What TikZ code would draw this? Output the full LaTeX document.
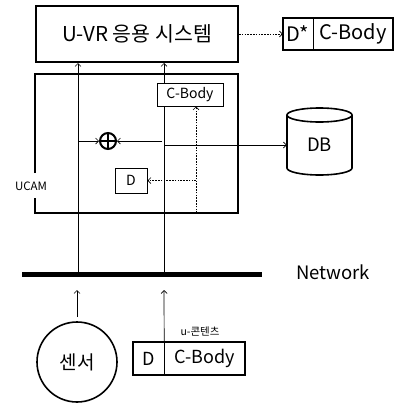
\documentclass[tikz,border=0pt]{standalone}
\usepackage{fontspec}
\setmainfont{Noto Sans CJK KR}
\usetikzlibrary{arrows.meta,calc}
\begin{document}
\begin{tikzpicture}[x=1pt,y=-1pt,
  box/.style={draw, line width=1.6pt, inner sep=0pt},
  plain/.style={inner sep=0pt},
  arr/.style={-{Straight Barb[length=3pt,width=6pt]}, line width=0.7pt},
  dotln/.style={dash pattern=on 1.6pt off 1.2pt},
  thin/.style={line width=0.7pt}]
\useasboundingbox (0,0) rectangle (396,407);
% top system
\node[box, line width=2pt, minimum width=202pt, minimum height=56pt] (sys) at (137,34) {\fontsize{20.5}{20.5}\selectfont U-VR 응용 시스템};
% D* C-Body
\node[plain, minimum width=30pt, minimum height=32pt] (dsD) at (298,34) {\fontsize{20}{20}\selectfont D*};
\node[plain, minimum width=80pt, minimum height=32pt] (dsC) at (353,34) {\fontsize{20}{20}\selectfont C-Body};
\draw[line width=1.6pt] (dsD.north west) rectangle (dsC.south east);
\draw[thin] (dsD.north east) -- (dsD.south east);
\draw[dotln, arr] (sys.east) -- (dsD.west);
% UCAM box
\draw[line width=2.2pt] (35,173) -- (35,74) -- (238,74) -- (238,213) -- (35,213) -- (35,198);
\node[plain] (ucam) at (31,186) {\fontsize{11.5}{11.5}\selectfont UCAM};
\node[box, line width=1pt, minimum width=66pt, minimum height=23pt] (cb) at (190,94.5) {\fontsize{14}{14}\selectfont C-Body};
\node[circle, draw, line width=2pt, minimum size=16pt, inner sep=0pt] (op) at (108,141) {};
\draw[line width=1.2pt] (op.north) -- (op.south) (op.west) -- (op.east);
\node[box, line width=1pt, minimum width=32pt, minimum height=25pt] (dd) at (131,180.5) {\fontsize{14}{14}\selectfont D};
% DB
\draw[line width=1.6pt] (287,115) -- (287,168) arc[start angle=180, end angle=0, x radius=32.5, y radius=7] -- (352,115);
\draw[line width=1.6pt] (319.5,115) ellipse [x radius=32.5, y radius=7];
\node[plain, minimum width=65pt, minimum height=56pt] (db) at (319.5,145) {\fontsize{18.5}{18.5}\selectfont DB};
% network
\coordinate (nL) at (22,274);
\coordinate (nR) at (262,274);
\draw[line width=5pt] (nL) -- (nR);
\node[plain] (net) at (333,272) {\fontsize{18.5}{18.5}\selectfont Network};
\coordinate (n1) at (78,274);
\coordinate (n2) at (164,274);
\draw[arr] (n1) -- (n1 |- sys.south);
\draw[arr] (n1 |- op.west) -- (op.west);
\draw[thin] (n2) -- (n2 |- cb.south);
\draw[arr] (n2 |- cb.north) -- (n2 |- sys.south);
\draw[arr] ($(n2 |- op.east)+(-2,0)$) -- (op.east);
\draw[arr] (n2 |- db.west) -- (db.west);
\coordinate (dv) at (196,213);
\draw[dotln, arr] (dv) -- (dv |- cb.south);
\draw[dotln, arr] (dv |- dd.east) -- (dd.east);
% below
\node[circle, draw, line width=1.6pt, minimum size=80pt, inner sep=0pt] (sen) at (77,362) {\fontsize{19}{19}\selectfont 센서};
\coordinate (a1) at (77,290);
\draw[arr, shorten <=4pt] (sen.north) -- (a1);
\node[plain, minimum width=31pt, minimum height=33pt] (ucD) at (148.5,358.5) {\fontsize{18}{18}\selectfont D};
\node[plain, minimum width=81pt, minimum height=33pt] (ucC) at (204.5,358.5) {\fontsize{18}{18}\selectfont C-Body};
\draw[line width=1.6pt] (ucD.north west) rectangle (ucC.south east);
\draw[thin] (ucD.north east) -- (ucD.south east);
\coordinate (a2) at (164,290);
\draw[arr] (ucD.north east) -- (a2);
\node[plain] (ul) at (200,331) {\fontsize{10.5}{10.5}\selectfont u-콘텐츠};
\end{tikzpicture}
\end{document}
